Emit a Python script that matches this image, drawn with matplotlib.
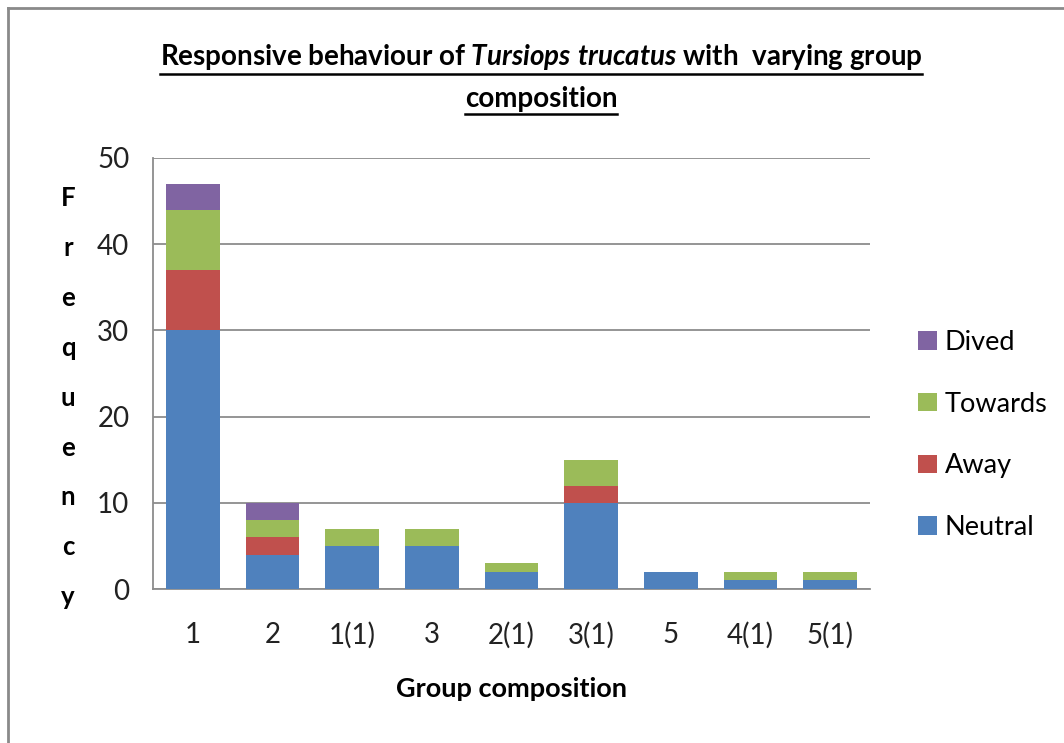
import matplotlib
matplotlib.use('Agg')
import matplotlib.pyplot as plt
from matplotlib.lines import Line2D
import numpy as np

groups = ['1', '2', '1(1)', '3', '2(1)', '3(1)', '5', '4(1)', '5(1)']
neutral = [30, 4, 5, 5, 2, 10, 2, 1, 1]
away = [7, 2, 0, 0, 0, 2, 0, 0, 0]
towards = [7, 2, 2, 2, 1, 3, 0, 1, 1]
dived = [3, 2, 0, 0, 0, 0, 0, 0, 0]

series = [('Neutral', neutral, '#4F81BD'),
          ('Away', away, '#C0504D'),
          ('Towards', towards, '#9BBB59'),
          ('Dived', dived, '#8064A2')]

plt.rcParams['font.family'] = ['Lato', 'DejaVu Sans']
plt.rcParams['mathtext.fontset'] = 'custom'
plt.rcParams['mathtext.rm'] = 'Lato:bold'
plt.rcParams['mathtext.it'] = 'Lato:italic:bold'

W, H = 1064, 743
fig = plt.figure(figsize=(W / 100, H / 100), dpi=100)
ax = fig.add_axes([153 / W, 1 - 589 / H, 717 / W, 431 / H])

x = np.arange(len(groups))
bottom = np.zeros(len(groups))
for name, vals, col in series:
    ax.bar(x, vals, 0.67, bottom=bottom, color=col, linewidth=0, label=name, zorder=3)
    bottom += np.array(vals)

ax.set_xlim(-0.5, 8.5)
ax.set_ylim(0, 50)
ax.set_yticks(range(0, 51, 10))
ax.set_xticks(x)
ax.set_xticklabels(groups)
ax.yaxis.grid(True, color='#8c8c8c', lw=1.3, zorder=0)
for s in ['top', 'right']:
    ax.spines[s].set_visible(False)
for s in ['left', 'bottom']:
    ax.spines[s].set_color('#8c8c8c')
    ax.spines[s].set_linewidth(1.3)
ax.tick_params(axis='both', labelsize=20, color='#8c8c8c', length=0, labelcolor='#222222')
ax.tick_params(axis='y', pad=17)
ax.tick_params(axis='x', pad=24)
ax.set_xlabel('Group composition', fontsize=19.5, fontweight='bold', labelpad=20)

# vertical stacked y label
for i, ch in enumerate('Frequency'):
    fig.text(68 / W, 1 - (198 + i * 49.9) / H, ch, fontsize=18.5, fontweight='bold',
             ha='center', va='center')

# legend, reversed order
h, l = ax.get_legend_handles_labels()
fig.legend(h[::-1], l[::-1], loc='center left', bbox_to_anchor=(894 / W, 1 - 435 / H),
           frameon=False, fontsize=19.5, handlelength=0.68, handleheight=0.68,
           handletextpad=0.3, labelspacing=1.36)

# title with underline
title_lines = [r'Responsive behaviour of $\mathit{Tursiops\ trucatus}$ with  varying group',
               'composition']
renderer = fig.canvas.get_renderer()
for line, yc in zip(title_lines, [57, 99]):
    t = fig.text(541 / W, 1 - yc / H, line, fontsize=20, fontweight='bold',
                 ha='center', va='center')
    bb = t.get_window_extent(renderer)
    yl = bb.y0 - 2
    fig.add_artist(Line2D([bb.x0 / W, bb.x1 / W], [yl / H, yl / H], color='black', lw=1.8))

# outer frame
fig.add_artist(Line2D([8 / W, 1], [1 - 8 / H, 1 - 8 / H], color='#8a8a8a', lw=2))
fig.add_artist(Line2D([8 / W, 8 / W], [0, 1 - 8 / H], color='#8a8a8a', lw=2))

fig.savefig('out.png', dpi=100)
